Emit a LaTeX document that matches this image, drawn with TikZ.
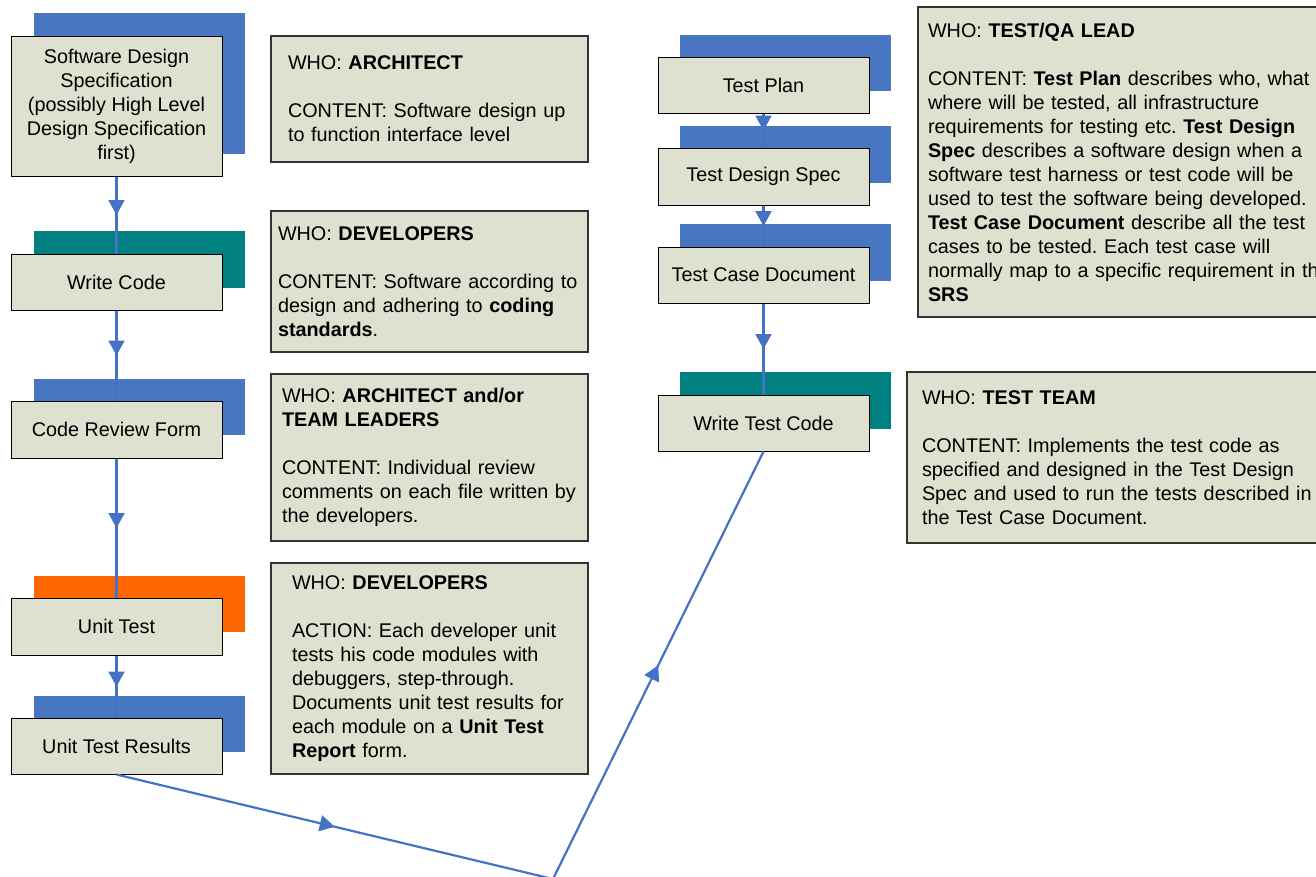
\documentclass[tikz,border=0pt]{standalone}
\usepackage{fontspec}
\setmainfont{Liberation Sans}
\usetikzlibrary{arrows.meta,decorations.markings}
\definecolor{boxfill}{RGB}{222,225,207}
\definecolor{docblue}{RGB}{72,118,192}
\definecolor{codeteal}{RGB}{0,128,128}
\definecolor{testorange}{RGB}{255,102,0}
\definecolor{linkblue}{RGB}{68,114,196}
\frenchspacing
\begin{document}
\begin{tikzpicture}[x=1pt, y=-1pt, font=\fontsize{19.8}{24}\selectfont,
  stage/.style={draw=black, line width=1pt, fill=boxfill, minimum width=211pt, inner sep=2pt, align=center},
  back/.style={inner sep=0pt, minimum width=211pt},
  info/.style={draw=black!80, line width=1.3pt, fill=boxfill, align=left, inner ysep=0pt},
  flow/.style={color=linkblue, line width=2.2pt, postaction={decorate},
    decoration={markings, mark=at position 0.5 with {\arrow{Triangle[length=15pt,width=16pt]}}}}]
\useasboundingbox (0,0) rectangle (1316,876);
\clip (0,0) rectangle (1316,876);

\node[back, fill=docblue, minimum height=141pt] (sdsb) at (139,83.5){};
\node[back, fill=codeteal, minimum height=57pt] (wcb) at (139,259.5){};
\node[back, fill=docblue, minimum height=56pt] (crfb) at (139,407){};
\node[back, fill=testorange, minimum height=56pt] (utb) at (139,604){};
\node[back, fill=docblue, minimum height=56pt] (utrb) at (139,724){};
\node[back, fill=docblue, minimum height=56pt] (tpb) at (785.5,63){};
\node[back, fill=docblue, minimum height=57pt] (tdsb) at (785.5,154.5){};
\node[back, fill=docblue, minimum height=57pt] (tcdb) at (785.5,252.5){};
\node[back, fill=codeteal, minimum height=57pt] (wtcb) at (785.5,400.5){};

\coordinate (sds) at (116.5,106);
\coordinate (wc) at (116.5,282);
\coordinate (crf) at (116.5,429.5);
\coordinate (ut) at (116.5,626.5);
\coordinate (utr) at (116.5,746);
\coordinate (tp) at (763.5,85);
\coordinate (tds) at (763.5,176.5);
\coordinate (tcd) at (763.5,275);
\coordinate (wtc) at (763.5,423);
\coordinate (vtx) at (553,879);

\draw[flow] (116.5,176) -- (116.5,254);
\draw[flow] (116.5,310) -- (116.5,401);
\draw[flow] (116.5,458) -- (116.5,598);
\draw[flow] (116.5,655) -- (116.5,718);
\draw[flow] (763.5,113) -- (763.5,148);
\draw[flow] (763.5,205) -- (763.5,247);
\draw[flow] (763.5,303) -- (763.5,395);

\node[stage, minimum height=140pt] (sdsn) at (sds){Software Design\\Specification\\(possibly High Level\\Design Specification\\first)};
\node[stage, minimum height=56pt] (wcn) at (wc){Write Code};
\node[stage, minimum height=57pt] (crfn) at (crf){Code Review Form};
\node[stage, minimum height=57pt] (utn) at (ut){Unit Test};
\node[stage, minimum height=56pt] (utrn) at (utr){Unit Test Results};
\node[stage, minimum height=56pt] (tpn) at (tp){Test Plan};
\node[stage, minimum height=57pt] (tdsn) at (tds){Test Design Spec};
\node[stage, minimum height=56pt] (tcdn) at (tcd){Test Case Document};
\node[stage, minimum height=56pt] (wtcn) at (wtc){Write Test Code};

\draw[flow] (utrn.south) -- (vtx);
\draw[flow] (vtx) -- (wtcn.south);

\node[info, inner xsep=17pt, text width=283pt, minimum height=126pt] (who1) at (429.5,99){WHO: \textbf{ARCHITECT}\\[24pt]CONTENT: Software design up\\to function interface level};
\node[info, inner xsep=7pt, text width=303pt, minimum height=141pt] (who2) at (429.5,281.5){WHO: \textbf{DEVELOPERS}\\[24pt]CONTENT: Software according to\\design and adhering to \textbf{coding}\\\textbf{standards}.};
\node[info, inner xsep=11pt, text width=295pt, minimum height=167pt] (who3) at (429.5,457.5){WHO: \textbf{ARCHITECT and/or}\\\textbf{TEAM LEADERS}\\[24pt]CONTENT: Individual review\\comments on each file written by\\the developers.};
\node[info, inner xsep=21pt, text width=275pt, minimum height=211pt] (who4) at (429.5,668.5){WHO: \textbf{DEVELOPERS}\\[24pt]ACTION: Each developer unit\\tests his code modules with\\debuggers, step-through.\\Documents unit test results for\\each module on a \textbf{Unit Test}\\\textbf{Report} form.};
\node[info, inner xsep=10pt, text width=402pt, minimum height=310pt] (who5) at (1129,162){WHO: \textbf{TEST/QA LEAD}\\[24pt]CONTENT: \textbf{Test Plan} describes who, what\\where will be tested, all infrastructure\\requirements for testing etc. \textbf{Test Design}\\\textbf{Spec} describes a software design when a\\software test harness or test code will be\\used to test the software being developed.\\\textbf{Test Case Document} describe all the test\\cases to be tested. Each test case will\\normally map to a specific requirement in the\\\textbf{SRS}};
\node[info, inner xsep=15pt, text width=403pt, minimum height=171pt] (who6) at (1123.5,457.5){WHO: \textbf{TEST TEAM}\\[24pt]CONTENT: Implements the test code as\\specified and designed in the Test Design\\Spec and used to run the tests described in\\the Test Case Document.};

\end{tikzpicture}
\end{document}
